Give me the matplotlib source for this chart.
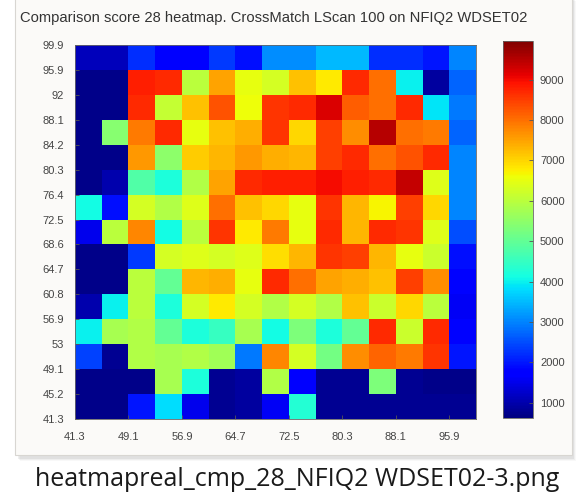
import numpy as np
import matplotlib
matplotlib.use("Agg")
from matplotlib import pyplot as plt
from matplotlib.patches import Rectangle

# bin edges shared by both axes (score buckets)
edge_labels = ["41.3", "45.2", "49.1", "53", "56.9", "60.8", "64.7", "68.6",
               "72.5", "76.4", "80.3", "84.2", "88.1", "92", "95.9", "99.9"]
x_tick_labels = ["41.3", "49.1", "56.9", "64.7", "72.5", "80.3", "88.1", "95.9"]
cbar_ticks = [1000, 2000, 3000, 4000, 5000, 6000, 7000, 8000, 9000]

# comparison counts, top row (95.9-99.9) first
counts = [
    [1100, 1100, 2200, 1700, 1700, 2300, 1900, 3100, 3100, 3500, 3500, 2200, 2200, 2000, 3000],
    [700, 700, 8800, 8700, 6000, 7500, 6500, 6300, 7200, 6800, 8700, 8000, 4000, 900, 2700],
    [700, 700, 8700, 6100, 7200, 8300, 6600, 8600, 8700, 9200, 8200, 8000, 8700, 3900, 2900],
    [700, 5400, 7900, 8700, 6500, 7200, 7400, 8600, 7000, 8500, 7700, 9500, 8000, 7900, 2700],
    [700, 700, 7600, 5500, 7100, 7300, 7600, 7400, 7300, 8500, 8700, 8000, 8300, 8700, 3000],
    [700, 1000, 4800, 4200, 5900, 7500, 8700, 8800, 8800, 9000, 8800, 8700, 9400, 6400, 3000],
    [4100, 1900, 6300, 5900, 6400, 8000, 7200, 7000, 6500, 8600, 7300, 6700, 8500, 7000, 3000],
    [1500, 6000, 7800, 4100, 6000, 8600, 6800, 7900, 6500, 8700, 7300, 8700, 8600, 6400, 2500],
    [700, 700, 2300, 6300, 6400, 6300, 6400, 6900, 7300, 8600, 8500, 7300, 6500, 6200, 1900],
    [700, 700, 6000, 5000, 7300, 7400, 6500, 8700, 8000, 7500, 7400, 7200, 8500, 7700, 1800],
    [1000, 4000, 6000, 4200, 6300, 6800, 6300, 5900, 6300, 5900, 7200, 6200, 7000, 6000, 1600],
    [4000, 5800, 5900, 5000, 4200, 4500, 5800, 4100, 5300, 4200, 5000, 8700, 6200, 8700, 1800],
    [2400, 800, 5900, 5800, 5900, 5700, 2900, 7800, 6300, 5200, 7700, 8100, 7900, 8600, 2000],
    [700, 700, 700, 5800, 4200, 800, 900, 5900, 1700, 800, 800, 5300, 800, 700, 700],
    [700, 700, 2000, 3800, 1500, 800, 900, 1600, 4300, 800, 800, 800, 800, 800, 800],
]

edges = 41.3 + 3.9 * np.arange(len(edge_labels))
grid = np.array(counts)[::-1]

plt.rcParams["font.family"] = ["Liberation Sans", "DejaVu Sans"]

fig = plt.figure(figsize=(5.79, 4.95), dpi=100)
fig.patch.set_facecolor("white")

# window panel with a soft drop shadow
for i, a in enumerate([0.05, 0.08, 0.12]):
    off = (3 - i) / 579
    fig.patches.append(Rectangle((17 / 579 + off, 1 - 458 / 495 - off * 1.2), 556 / 579, 460 / 495,
                                 transform=fig.transFigure, facecolor="#808080", alpha=a,
                                 edgecolor="none", zorder=-3))
fig.patches.append(Rectangle((15 / 579, 1 - 455 / 495), 557 / 579, 460 / 495,
                             transform=fig.transFigure, facecolor="#fbfaf8",
                             edgecolor="#d8d6d2", linewidth=0.8, zorder=-2))

ax = fig.add_axes([75 / 579, 1 - 419 / 495, 401 / 579, 374 / 495])
mesh = ax.pcolormesh(edges, edges, grid, cmap="jet", vmin=620, vmax=9960)

ax.set_yticks(edges)
ax.set_yticklabels(edge_labels)
ax.set_xticks(edges[::2])
ax.set_xticklabels(x_tick_labels)
ax.tick_params(direction="in", length=3, width=0.6, labelsize=8,
               colors="#555555", labelcolor="#444444")
ax.tick_params(axis="y", pad=8)
ax.tick_params(axis="x", pad=9)
for s in ax.spines.values():
    s.set_linewidth(0.6)
    s.set_color("#666666")

fig.text(274 / 579, 1 - 18 / 495,
         "Comparison score 28 heatmap. CrossMatch LScan 100 on NFIQ2 WDSET02",
         ha="center", va="center", fontsize=10.6, color="#333333")

cax = fig.add_axes([503 / 579, 1 - 418 / 495, 30 / 579, 377 / 495])
cb = fig.colorbar(mesh, cax=cax, ticks=cbar_ticks)
cb.outline.set_linewidth(0.6)
cb.outline.set_edgecolor("#666666")
cax.tick_params(direction="in", length=3, width=0.6, labelsize=8, pad=5,
                colors="#555555", labelcolor="#444444")

fig.text(297 / 579, 1 - 480 / 495, "heatmapreal_cmp_28_NFIQ2 WDSET02-3.png",
         ha="center", va="center", fontsize=18, family="Open Sans", color="#1a1a1a")

fig.savefig("out.png", dpi=100)
